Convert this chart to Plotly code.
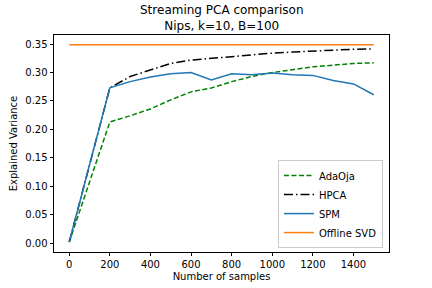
import plotly.graph_objects as go

samples = [0, 200, 300, 400, 500, 600, 700, 800, 900, 1000, 1100, 1200, 1300, 1400, 1500]
adaoja = [0.002, 0.213, 0.224, 0.236, 0.252, 0.266, 0.273, 0.284, 0.293, 0.300, 0.305, 0.310, 0.313, 0.316, 0.317]
hpca = [0.002, 0.273, 0.293, 0.305, 0.316, 0.322, 0.325, 0.329, 0.332, 0.334, 0.336, 0.338, 0.340, 0.341, 0.3415]
spm = [0.002, 0.273, 0.284, 0.292, 0.298, 0.300, 0.287, 0.298, 0.296, 0.299, 0.296, 0.295, 0.286, 0.280, 0.261]
offline_svd = [0.349] * len(samples)

x_ticks = [0, 200, 400, 600, 800, 1000, 1200, 1400]
y_ticks = [0.00, 0.05, 0.10, 0.15, 0.20, 0.25, 0.30, 0.35]

fig = go.Figure()
fig.add_trace(go.Scatter(x=samples, y=adaoja, mode="lines", name="AdaOja",
                         line=dict(color="#008000", width=1.5, dash="5px,2.5px")))
fig.add_trace(go.Scatter(x=samples, y=hpca, mode="lines", name="HPCA",
                         line=dict(color="#000000", width=1.5, dash="9px,3px,1.5px,3px")))
fig.add_trace(go.Scatter(x=samples, y=spm, mode="lines", name="SPM",
                         line=dict(color="#1f77b4", width=1.5)))
fig.add_trace(go.Scatter(x=samples, y=offline_svd, mode="lines", name="Offline SVD",
                         line=dict(color="#ff7f0e", width=1.5)))

axis_common = dict(showline=True, linecolor="black", linewidth=0.8, mirror=True,
                   ticks="outside", ticklen=3.5, tickwidth=0.8, tickcolor="black",
                   showgrid=False, zeroline=False, automargin=False,
                   tickfont=dict(family="DejaVu Sans", size=10, color="black"))

fig.update_layout(
    width=432, height=288,
    margin=dict(l=54, r=43, t=35, b=36, autoexpand=False),
    paper_bgcolor="white", plot_bgcolor="white",
    font=dict(family="DejaVu Sans", size=10, color="black"),
    xaxis=dict(range=[-75, 1575], tickvals=x_ticks,
               title=dict(text="Number of samples", font=dict(size=10), standoff=3),
               **axis_common),
    yaxis=dict(range=[-0.0155, 0.366], tickvals=y_ticks, tickformat=".2f",
               title=dict(text="Explained Variance", font=dict(size=10), standoff=5),
               **axis_common),
    legend=dict(x=0.982, y=0.018, xanchor="right", yanchor="bottom",
                bordercolor="#cccccc", borderwidth=1, bgcolor="rgba(255,255,255,0.8)",
                font=dict(family="DejaVu Sans", size=10), tracegroupgap=0,
                itemwidth=30),
    showlegend=True,
    annotations=[dict(text="Streaming PCA comparison<br>Nips, k=10, B=100",
                      xref="paper", yref="paper", x=0.5, y=1.0,
                      xanchor="center", yanchor="bottom", showarrow=False,
                      font=dict(family="DejaVu Sans", size=12, color="black"))],
)

fig.write_html("out.html", config={"displayModeBar": False},
               post_script="document.body.style.margin='0';")
